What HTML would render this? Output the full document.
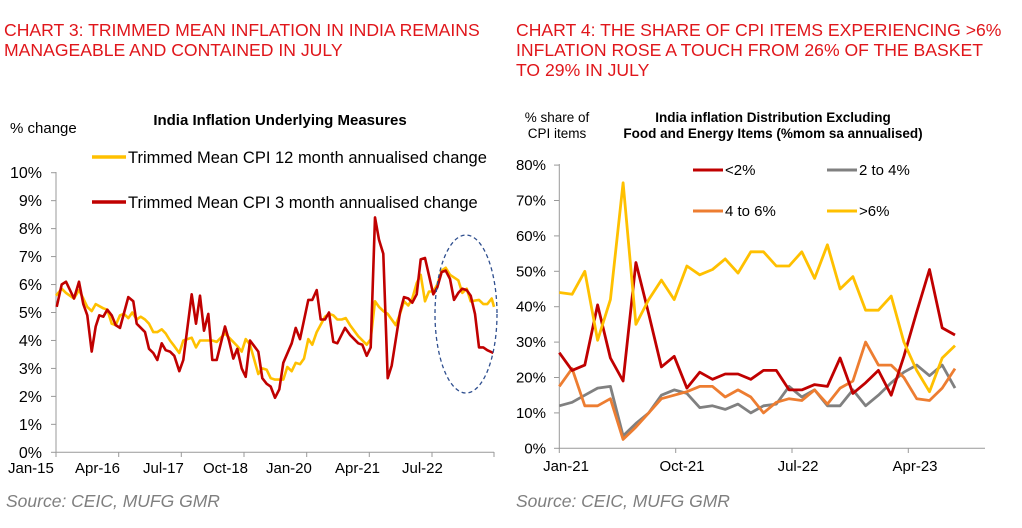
<!DOCTYPE html>
<html><head><meta charset="utf-8"><style>
body{margin:0;background:#fff;width:1022px;height:523px;overflow:hidden;font-family:"Liberation Sans",Arial,sans-serif}
svg text{font-family:"Liberation Sans",Arial,sans-serif}
</style></head><body>
<svg id="s" width="1022" height="523" xmlns="http://www.w3.org/2000/svg">
<g fill="#e0161b" font-size="17.6">
<text x="4" y="36">CHART 3: TRIMMED MEAN INFLATION IN INDIA REMAINS</text>
<text x="4" y="56">MANAGEABLE AND CONTAINED IN JULY</text>
<text x="516" y="36">CHART 4: THE SHARE OF CPI ITEMS EXPERIENCING &gt;6%</text>
<text x="516" y="56">INFLATION ROSE A TOUCH FROM 26% OF THE BASKET</text>
<text x="516" y="76">TO 29% IN JULY</text>
</g>
<text x="280" y="125" font-size="15" font-weight="bold" text-anchor="middle">India Inflation Underlying Measures</text>
<text x="10" y="133" font-size="15">% change</text>
<text x="773" y="122" font-size="13.5" font-weight="bold" text-anchor="middle">India inflation Distribution Excluding</text>
<text x="773" y="138" font-size="13.5" font-weight="bold" text-anchor="middle">Food and Energy Items (%mom sa annualised)</text>
<text x="557" y="122" font-size="13.5" text-anchor="middle">% share of</text>
<text x="557" y="138" font-size="13.5" text-anchor="middle">CPI items</text>
<g fill="#7f7f7f" font-size="17.5" font-style="italic">
<text x="6" y="507">Source: CEIC, MUFG GMR</text>
<text x="516" y="507">Source: CEIC, MUFG GMR</text>
</g>
<g id="L"></g><g id="R"></g>
<ellipse cx="466" cy="314" rx="31" ry="79" fill="none" stroke="#2f4f8f" stroke-width="1.3" stroke-dasharray="4,3"/>
<g font-size="16.5">
<line x1="92" y1="157" x2="126" y2="157" stroke="#ffc000" stroke-width="3.5"/><text x="128" y="163">Trimmed Mean CPI 12 month annualised change</text>
<line x1="92" y1="202" x2="126" y2="202" stroke="#c00000" stroke-width="3.5"/><text x="128" y="208">Trimmed Mean CPI 3 month annualised change</text>
</g>
<g font-size="15">
<line x1="693" y1="170" x2="723" y2="170" stroke="#c00000" stroke-width="3"/><text x="725" y="175">&lt;2%</text>
<line x1="827" y1="170" x2="857" y2="170" stroke="#808080" stroke-width="3"/><text x="859" y="175">2 to 4%</text>
<line x1="693" y1="211" x2="723" y2="211" stroke="#ed7d31" stroke-width="3"/><text x="725" y="216">4 to 6%</text>
<line x1="827" y1="211" x2="857" y2="211" stroke="#ffc000" stroke-width="3"/><text x="859" y="216">&gt;6%</text>
</g>
</svg>
<script>
const NS="http://www.w3.org/2000/svg";
function el(p,t,a,txt){const e=document.createElementNS(NS,t);for(const k in a)e.setAttribute(k,a[k]);if(txt!=null)e.textContent=txt;p.appendChild(e);return e;}
const L=document.getElementById('L'),R=document.getElementById('R');
const ly=v=>452.3-v*27.96;
el(L,'line',{x1:56,y1:172,x2:56,y2:453,stroke:'#999'});
el(L,'line',{x1:56,y1:452.3,x2:494,y2:452.3,stroke:'#999'});
for(let i=0;i<=10;i++){el(L,'line',{x1:51,x2:56,y1:ly(i),y2:ly(i),stroke:'#999'});el(L,'text',{x:42,y:ly(i)+5.5,'font-size':16,'text-anchor':'end'},i+'%');}
[56,118.7,181.3,244,306.7,369.3,432,494].forEach(x=>el(L,'line',{x1:x,x2:x,y1:452,y2:457,stroke:'#999'}));
[['Jan-15',8],['Apr-16',75],['Jul-17',143],['Oct-18',203],['Jan-20',266],['Apr-21',335],['Jul-22',402]].forEach(([t,x])=>el(L,'text',{x:x,y:473,'font-size':15},t));
const Y=[[168,5.6],[185,5.85],[198,5.7],[222,5.5],[237,5.8],[250,5.5],[262,5.2],[275,5.05],[287,5.3],[310,5.15],[322,5.1],[335,4.6],[347,4.55],[360,4.9],[372,4.95],[385,4.8],[397,5.0],[410,4.75],[422,4.85],[435,4.75],[447,4.6],[460,4.3],[472,4.3],[485,4.4],[497,4.25],[510,4.0],[523,3.8],[538,3.55],[550,4.0],[575,4.1],[588,3.75],[600,4.0],[637,4.0],[650,3.95],[675,4.25],[700,3.95],[712,3.8],[725,3.6],[737,4.05],[750,3.85],[775,2.8],[787,3.0],[800,2.95],[812,2.65],[825,2.6],[850,2.6],[862,3.05],[875,2.9],[887,3.2],[900,3.15],[912,3.35],[925,4.05],[937,3.85],[950,4.3],[975,4.85],[987,4.95],[1000,4.9],[1012,4.75],[1025,4.75],[1037,4.8],[1050,4.55],[1075,4.15],[1100,3.85],[1112,4.05],[1125,5.4],[1137,5.2],[1150,5.05],[1163,4.95],[1175,4.75],[1187,4.55],[1200,4.95],[1212,5.4],[1225,5.25],[1237,5.5],[1250,6.05],[1262,6.35],[1275,5.4],[1287,5.75],[1300,5.75],[1312,6.0],[1325,6.5],[1337,6.6],[1350,6.35],[1375,6.15],[1387,5.7],[1400,5.85],[1412,5.4],[1437,5.45],[1450,5.3],[1462,5.3],[1475,5.5],[1482,5.2]];
const Rd=[[170,5.2],[185,6.0],[198,6.1],[222,5.5],[237,6.1],[250,5.3],[262,4.9],[275,3.6],[287,4.5],[298,4.9],[310,4.85],[322,5.1],[335,4.9],[347,4.55],[360,4.45],[385,5.55],[400,5.4],[410,4.6],[435,4.3],[447,3.7],[460,3.55],[472,3.3],[485,3.9],[497,3.65],[510,3.6],[523,3.45],[538,2.9],[550,3.3],[575,5.65],[588,4.6],[600,5.6],[612,4.35],[625,4.95],[637,3.3],[650,3.3],[675,4.5],[687,4.0],[700,3.35],[712,3.7],[725,3.0],[737,2.7],[750,4.0],[775,3.6],[787,2.65],[800,2.45],[812,2.35],[825,1.95],[838,2.25],[850,3.2],[875,3.9],[887,4.45],[900,4.05],[925,5.45],[937,5.45],[950,5.8],[962,4.75],[975,4.75],[987,5.0],[1000,3.95],[1012,3.9],[1035,4.45],[1050,4.2],[1075,3.9],[1087,3.85],[1100,3.45],[1112,3.75],[1125,8.4],[1137,7.6],[1150,7.1],[1163,2.65],[1175,3.1],[1200,5.0],[1212,5.55],[1225,5.5],[1237,5.35],[1250,5.65],[1262,6.9],[1275,6.95],[1300,5.65],[1312,5.9],[1325,6.45],[1337,6.5],[1350,6.2],[1362,5.45],[1375,5.7],[1387,5.85],[1400,5.8],[1412,5.6],[1425,4.95],[1437,3.75],[1450,3.75],[1462,3.65],[1480,3.55]];
function pl(g,pts,c,w){el(g,'polyline',{points:pts.map(p=>p[0].toFixed(1)+','+p[1].toFixed(1)).join(' '),fill:'none',stroke:c,'stroke-width':w,'stroke-linejoin':'round'});}
pl(L,Y.map(p=>[p[0]/3,ly(p[1])]),'#ffc000',2.6);
pl(L,Rd.map(p=>[p[0]/3,ly(p[1])]),'#c00000',2.6);
const ry=v=>448.3-v*3.54;
el(R,'line',{x1:559.3,y1:164,x2:559.3,y2:449,stroke:'#999'});
el(R,'line',{x1:559.3,y1:448.3,x2:985,y2:448.3,stroke:'#999'});
for(let i=0;i<=8;i++){el(R,'line',{x1:554,x2:559,y1:ry(i*10),y2:ry(i*10),stroke:'#999'});el(R,'text',{x:546,y:ry(i*10)+5,'font-size':15,'text-anchor':'end'},(i*10)+'%');}
[559.3,675.7,792,908.3].forEach(x=>el(R,'line',{x1:x,x2:x,y1:448,y2:453,stroke:'#999'}));
[['Jan-21',566],['Oct-21',682],['Jul-22',798],['Apr-23',915]].forEach(([t,x])=>el(R,'text',{x:x,y:471,'font-size':15,'text-anchor':'middle'},t));
const S={
o:[17.5,22.5,12,12,14,2.5,6,10,14,15,16,17.5,17.5,14.5,16.5,14.5,10,13,14,13.5,16.5,12.5,17,19,30,23.5,23.5,20,14,13.5,17,22.5],
g:[12,13,15,17,17.5,3.5,7,10,15,16.5,15.5,11.5,12,11,12.5,10,12,12.5,17.5,14.5,16.5,12,12,16.5,12,15,18.5,21.5,23.5,20.5,23.5,17],
r:[27,22,23.5,40.5,25.5,19,52.5,38,23,26,17,21.5,19.5,21,21,19.5,22,22,16.5,16.5,18,17.5,25.5,15.5,18.5,22,15,26,38.5,50.5,34,32],
y:[44,43.5,50,30.5,42,75,35,42,47.5,42,51.5,49,50.5,53.5,49.5,55.5,55.5,51.5,51.5,55.5,48,57.5,45,48.5,39,39,43,30,22,16,25.5,29]};
const rx=i=>559.3+i*(955-559.3)/31;
[['g','#808080'],['o','#ed7d31'],['r','#c00000'],['y','#ffc000']].forEach(([k,c])=>pl(R,S[k].map((v,i)=>[rx(i),ry(v)]),c,2.8));
</script>
</body></html>
